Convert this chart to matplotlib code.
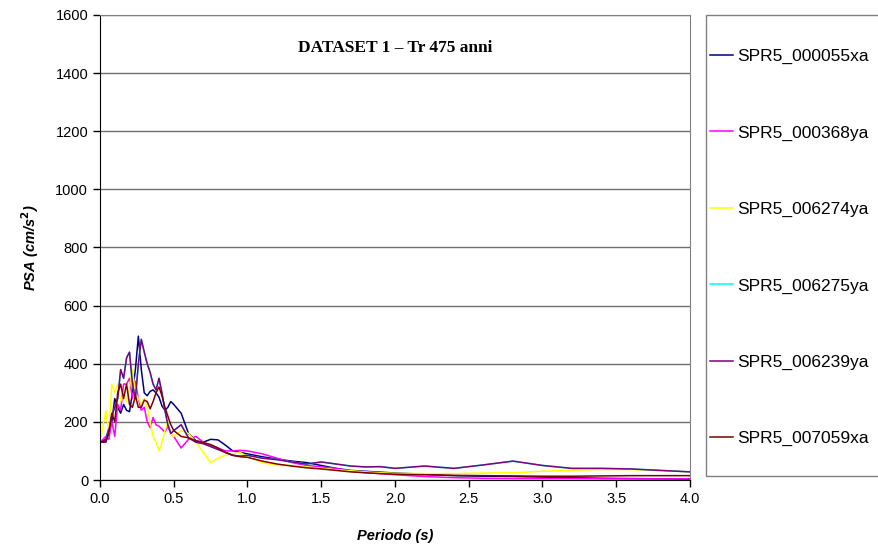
import matplotlib
matplotlib.use("Agg")
import matplotlib.pyplot as plt
from matplotlib.patches import Rectangle
from matplotlib.ticker import FormatStrFormatter

# periods (s)
periodo = [0.0, 0.04, 0.06, 0.08, 0.10, 0.12, 0.14, 0.16, 0.18, 0.20,
           0.22, 0.24, 0.26, 0.28, 0.30, 0.32, 0.34, 0.36, 0.38, 0.40,
           0.42, 0.44, 0.46, 0.48, 0.50, 0.55, 0.60, 0.65, 0.70, 0.75,
           0.80, 0.85, 0.90, 0.95, 1.00, 1.10, 1.20, 1.30, 1.40, 1.50,
           1.60, 1.70, 1.80, 1.90, 2.00, 2.20, 2.40, 2.60, 2.80, 3.00,
           3.20, 3.40, 3.60, 3.80, 4.00]

spr5_000055xa = [130, 140, 180, 200, 280, 250, 230, 260, 240, 235,
                 300, 380, 495, 380, 300, 290, 305, 310, 300, 285,
                 255, 240, 250, 270, 260, 230, 160, 135, 130, 140,
                 138, 120, 100, 95, 90, 80, 72, 65, 60, 50,
                 40, 33, 30, 27, 24, 20, 15, 13, 12, 10,
                 8, 6, 5, 4, 3]
spr5_000368ya = [130, 150, 140, 200, 150, 260, 240, 330, 330, 350,
                 280, 340, 280, 240, 250, 200, 180, 215, 190, 185,
                 175, 165, 185, 160, 150, 110, 140, 150, 130, 120,
                 110, 100, 100, 102, 100, 90, 75, 60, 50, 45,
                 40, 30, 25, 22, 18, 12, 8, 6, 5, 5,
                 5, 4, 4, 4, 4]
spr5_006274ya = [130, 240, 160, 330, 300, 330, 270, 300, 270, 320,
                 380, 300, 280, 260, 280, 250, 200, 150, 130, 100,
                 130, 170, 200, 160, 150, 170, 160, 130, 95, 60,
                 75, 85, 90, 95, 80, 60, 50, 50, 45, 40,
                 35, 32, 28, 25, 23, 22, 22, 24, 25, 30,
                 34, 36, 36, 32, 28]
spr5_006239ya = [130, 130, 170, 220, 250, 280, 380, 350, 420, 440,
                 330, 280, 400, 484, 440, 400, 370, 330, 310, 350,
                 300, 240, 190, 160, 170, 190, 145, 130, 125, 115,
                 105, 95, 85, 82, 85, 75, 70, 62, 55, 62,
                 55, 48, 45, 46, 40, 48, 40, 52, 65, 50,
                 40, 40, 38, 33, 28]
# not visible in the picture: hidden under SPR5_006239ya
spr5_006275ya = list(spr5_006239ya)
spr5_007059xa = [130, 135, 160, 230, 200, 300, 330, 280, 330, 260,
                 250, 290, 250, 250, 275, 270, 245, 270, 300, 320,
                 290, 250, 220, 190, 170, 150, 145, 135, 128, 122,
                 110, 95, 85, 80, 78, 65, 55, 48, 42, 38,
                 33, 28, 25, 22, 20, 18, 16, 15, 14, 13,
                 13, 14, 15, 15, 15]

series = [
    ("SPR5_000055xa", spr5_000055xa, "#000080"),
    ("SPR5_000368ya", spr5_000368ya, "#FF00FF"),
    ("SPR5_006274ya", spr5_006274ya, "#FFFF00"),
    ("SPR5_006275ya", spr5_006275ya, "#00FFFF"),
    ("SPR5_006239ya", spr5_006239ya, "#800080"),
    ("SPR5_007059xa", spr5_007059xa, "#800000"),
]

plt.rcParams['font.family'] = ['Liberation Sans', 'DejaVu Sans']

fig = plt.figure(figsize=(8.79, 5.5), dpi=100)
ax = fig.add_axes([100 / 879, 70 / 550, 590 / 879, 465 / 550])

for name, vals, col in series:
    ax.plot(periodo, vals, color=col, lw=1.1, label=name)

ax.set_xlim(0, 4)
ax.set_ylim(0, 1600)
ax.set_xticks([0, 0.5, 1.0, 1.5, 2.0, 2.5, 3.0, 3.5, 4.0])
ax.set_yticks(range(0, 1601, 200))
ax.xaxis.set_major_formatter(FormatStrFormatter('%.1f'))
ax.tick_params(direction='out', length=5, width=1, labelsize=10.5, color='black')
ax.grid(axis='y', color='#707070', lw=1.0)
ax.set_axisbelow(True)
for s in ['top', 'right']:
    ax.spines[s].set_color('#808080')
for s in ['left', 'bottom']:
    ax.spines[s].set_color('black')

ax.set_xlabel('Periodo (s)', fontsize=10.5, fontweight='bold', fontstyle='italic', labelpad=17)
ax.set_ylabel('PSA (cm/s$^\\mathbf{2}$)', fontsize=10.5, fontweight='bold', fontstyle='italic', labelpad=10)

ax.text(0.5, 0.93, 'DATASET 1 \u2013 Tr 475 anni', transform=ax.transAxes,
        ha='center', va='center', fontsize=12.5, fontweight='bold',
        family=['Liberation Serif', 'DejaVu Serif'])

# legend box (right edge runs off the figure)
fig.patches.append(Rectangle((706 / 879, 74 / 550), 0.4, 461 / 550,
                             transform=fig.transFigure, fill=False,
                             edgecolor='#808080', lw=1.0))
leg = fig.legend(loc='upper left', bbox_to_anchor=(710 / 879, 1 - 49 / 550),
                 fontsize=12.5, frameon=False,
                 handlelength=1.3, handletextpad=0.25, labelspacing=3.52,
                 borderpad=0, borderaxespad=0)

fig.savefig('out.png', dpi=100)
